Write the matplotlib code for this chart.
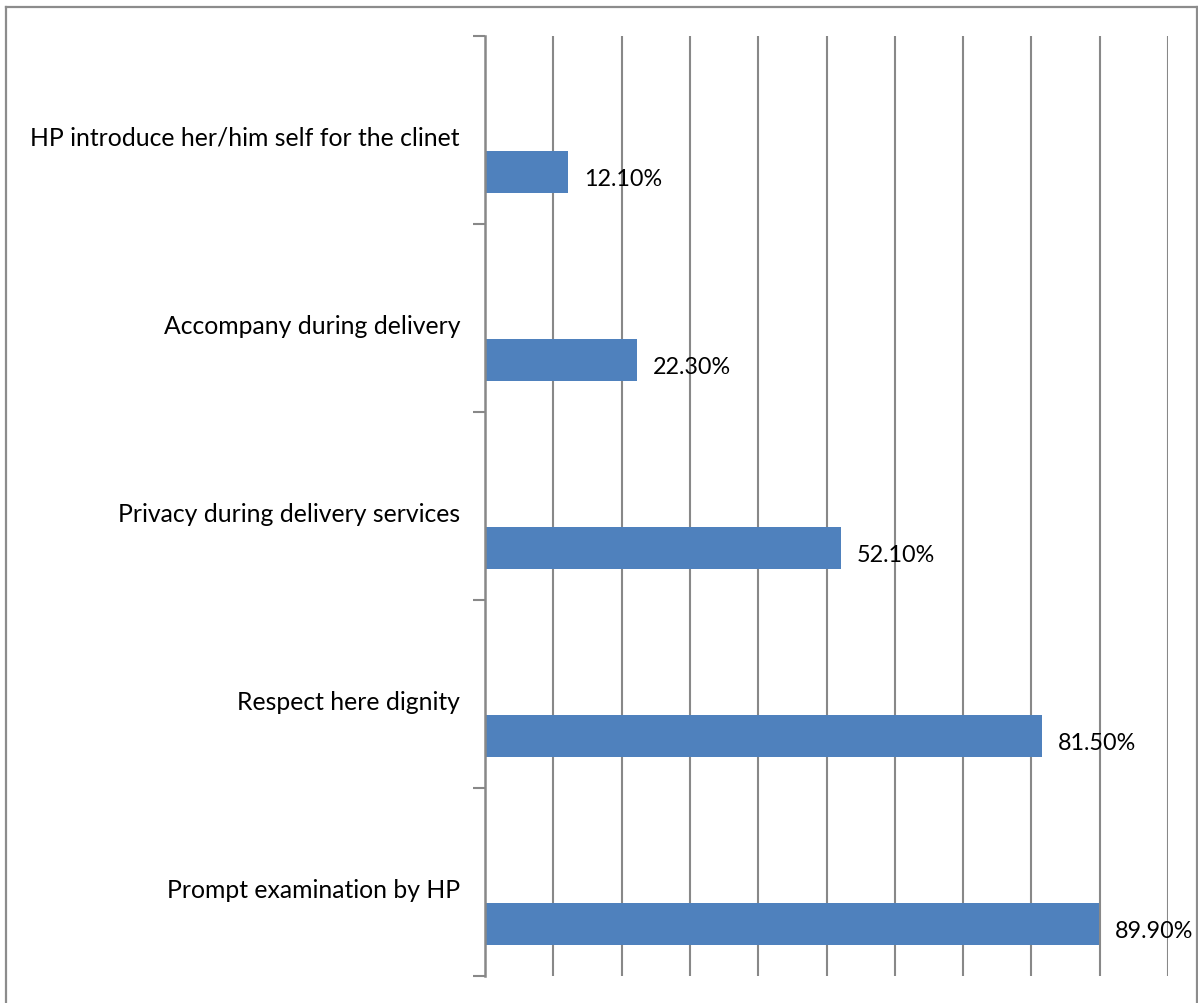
import matplotlib
matplotlib.use("Agg")
import matplotlib.pyplot as plt
from matplotlib.lines import Line2D
from matplotlib.transforms import offset_copy
import numpy as np

categories = [
    "HP introduce her/him self for the clinet",
    "Accompany during delivery",
    "Privacy during delivery services",
    "Respect here dignity",
    "Prompt examination by HP",
]
values = [0.121, 0.223, 0.521, 0.815, 0.899]
value_labels = ["12.10%", "22.30%", "52.10%", "81.50%", "89.90%"]

plt.rcParams["font.family"] = ["Lato", "DejaVu Sans"]

W, H, DPI = 1198, 1004, 100
fig = plt.figure(figsize=(W / DPI, H / DPI), dpi=DPI)
fig.patch.set_facecolor("white")

# plot area in pixel coordinates
x0, x1, ytop, ybot = 485, 1168, 37, 977
ax = fig.add_axes([x0 / W, 1 - ybot / H, (x1 - x0) / W, (ybot - ytop) / H])

grid_col = "#888888"
bar_col = "#4F81BD"
n = len(categories)
pos = np.arange(n)

bar_h = 1 / 4.5
ax.barh(pos + bar_h, values, height=bar_h, color=bar_col, zorder=3)

ax.set_xlim(0, 1.0)
ax.set_ylim(n - 0.5, -0.5)

ax.set_xticks(np.arange(0.1, 1.01, 0.1))
ax.tick_params(axis="x", length=0, labelbottom=False)
ax.grid(axis="x", color=grid_col, linewidth=1.5, zorder=1)

ax.set_yticks(np.arange(-0.5, n, 1.0))
ax.tick_params(axis="y", length=9, width=1.5, color=grid_col, labelleft=False)

for s in ["top", "right", "bottom"]:
    ax.spines[s].set_visible(False)
ax.spines["left"].set_color(grid_col)
ax.spines["left"].set_linewidth(1.8)
ax.spines["left"].set_zorder(4)

# category labels at band centres, left of the axis
lab_tr = offset_copy(ax.get_yaxis_transform(), fig=fig, x=-25, y=-7, units="dots")
for p, c in zip(pos, categories):
    ax.text(0, p, c, transform=lab_tr, ha="right", va="center",
            fontsize=17.8, color="black")

# value labels just past each bar end
for p, v, t in zip(pos, values, value_labels):
    tr = offset_copy(ax.transData, fig=fig, x=16, y=-7, units="dots")
    ax.text(v, p + bar_h, t, transform=tr, ha="left", va="center",
            fontsize=16.8, color="black", zorder=5)

# outer chart border (left, top, right)
bc = "#8c8c8c"
fig.add_artist(Line2D([5.5 / W, 5.5 / W], [0, 1 - 7.5 / H], color=bc, lw=1.6,
                      transform=fig.transFigure))
fig.add_artist(Line2D([5.5 / W, 1196.5 / W], [1 - 7.5 / H, 1 - 7.5 / H], color=bc,
                      lw=1.6, transform=fig.transFigure))
fig.add_artist(Line2D([1196.5 / W, 1196.5 / W], [0, 1 - 7.5 / H], color=bc, lw=1.6,
                      transform=fig.transFigure))

fig.savefig("out.png", dpi=DPI, facecolor="white")
